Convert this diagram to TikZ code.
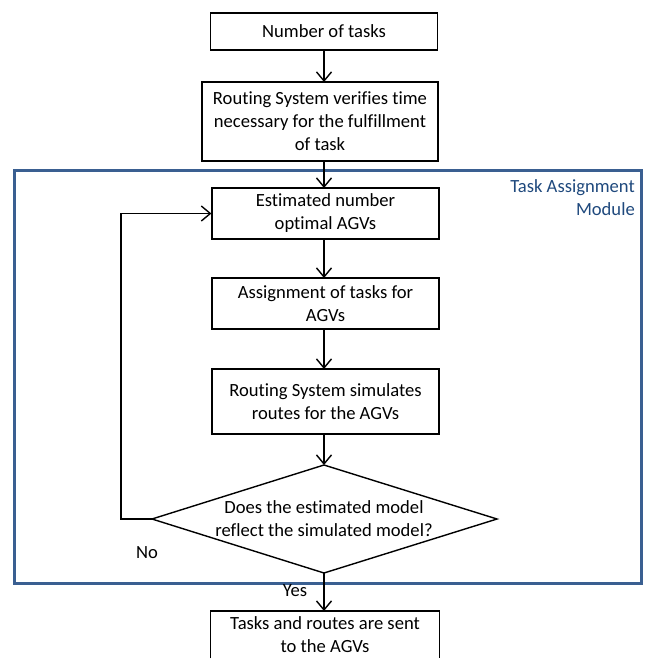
\documentclass[tikz,border=0pt]{standalone}
\usepackage{fontspec}
\setmainfont{Carlito}[Ligatures={NoCommon}]
\usetikzlibrary{arrows.meta}
\definecolor{modline}{RGB}{58,95,145}
\definecolor{modtext}{RGB}{31,73,125}
\begin{document}
\begin{tikzpicture}[x=1pt,y=-1pt,
  every node/.style={font=\fontsize{18.6}{23}\selectfont},
  box/.style={draw=black,line width=1.2pt,align=center,inner sep=0pt},
  arr/.style={draw=black,line width=1.4pt,-{Straight Barb[length=9pt,width=15pt,line width=1.4pt]}},
  lbl/.style={inner sep=0pt}]
\useasboundingbox (0,0) rectangle (646,659);
% module frame
\node[draw=modline,line width=3pt,minimum width=627pt,minimum height=413pt,inner sep=0pt] (mod) at (327.5,376.5) {};
\node[lbl,text=modtext,align=right,anchor=north east] (modlbl) at (635,179) {Task Assignment\\Module};
% boxes
\node[box,minimum width=227pt,minimum height=37pt] (n1) at (324,31.5) {Number of tasks};
\node[box,minimum width=236pt,minimum height=79pt] (n2) at (320,121.5) {Routing System verifies time\\necessary for the fulfillment\\of task};
\node[box,minimum width=227pt,minimum height=51pt] (n3) at (325.5,213.5) {Estimated number\\optimal AGVs};
\node[box,minimum width=227pt,minimum height=51pt] (n4) at (325.5,303.5) {Assignment of tasks for\\AGVs};
\node[box,minimum width=227pt,minimum height=65pt] (n5) at (325.5,401.5) {Routing System simulates\\routes for the AGVs};
% decision
\coordinate (dtop) at (324,465);
\coordinate (dleft) at (152,519);
\coordinate (dright) at (497,519);
\coordinate (dbot) at (324,573);
\draw[line width=1.4pt] (dtop) -- (dright) -- (dbot) -- (dleft) -- cycle;
\node[lbl,align=center] (dtext) at (324,519) {Does the estimated model\\reflect the simulated model?};
% last box, cut off by the page edge
\node[lbl,align=center,minimum width=228pt,minimum height=47pt,anchor=north] (n6) at (325,611) {Tasks and routes are sent\\to the AGVs};
\draw[line width=1.2pt] (n6.south west) -- (n6.north west) -- (n6.north east) -- (n6.south east);
% connectors
\draw[arr] (324,50) -- (324,82);
\draw[arr] (324,161) -- (324,188);
\draw[arr] (324,239) -- (324,278);
\draw[arr] (324,329) -- (324,369);
\draw[arr] (324,434) -- (dtop);
\draw[arr] (dbot) -- (n6.north -| dbot);
\draw[arr] (dleft) -- (121,519) |- (n3.west);
\node[lbl] (no) at (147,553) {No};
\node[lbl] (yes) at (295,591) {Yes};
\end{tikzpicture}
\end{document}
